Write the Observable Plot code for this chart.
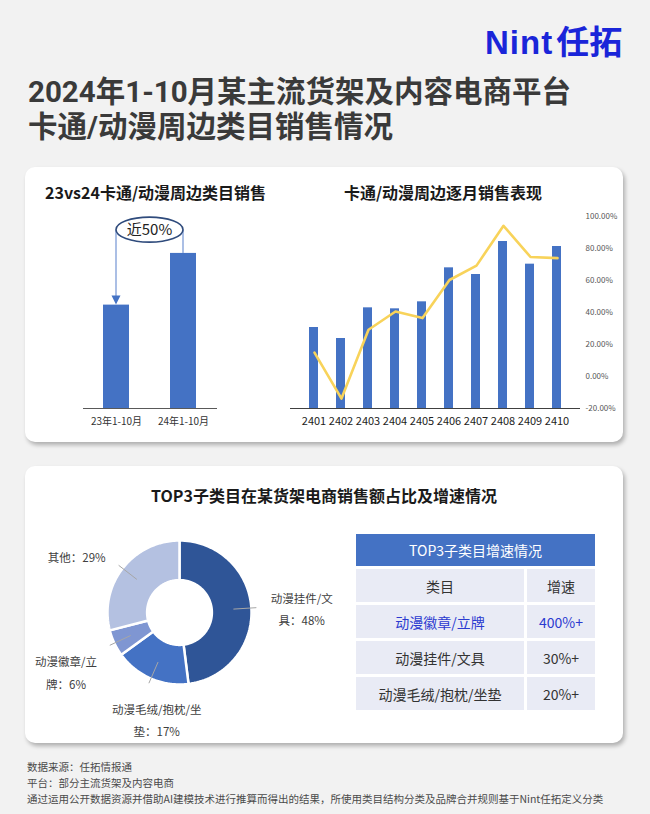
<!DOCTYPE html>
<html><head><meta charset="utf-8">
<script src="https://cdn.jsdelivr.net/npm/d3@7"></script>
<script src="https://cdn.jsdelivr.net/npm/@observablehq/plot@0.6"></script>
<style>
body{margin:0;background:#f2f2f2;font-family:"Noto Sans CJK SC","Noto Sans",sans-serif;}
#page{position:relative;width:650px;height:814px;overflow:hidden;background:#f2f2f2;}
.abs{position:absolute;}
.card{position:absolute;background:#fff;border-radius:10px;box-shadow:2px 3px 4px rgba(0,0,0,0.28);}
#logo{left:485px;top:21px;font-weight:bold;color:#1a25d9;font-size:33px;line-height:38px;white-space:nowrap;}
#logo .en{font-family:"Liberation Sans",Arial,sans-serif;font-weight:bold;letter-spacing:1px;margin-right:3px;}
.title{left:28px;font-family:Roboto,"Noto Sans CJK SC",sans-serif;font-size:29.5px;font-weight:bold;color:#3a3a3a;line-height:30px;height:30px;white-space:nowrap;}
.ctitle{font-size:16px;font-weight:bold;color:#1a1a1a;white-space:nowrap;}
table{border-collapse:separate;border-spacing:3px;}
#tbl{left:353px;top:531px;}
#tbl td{background:#e9ebf5;text-align:center;font-size:14px;color:#333;height:33px;padding:0;}
#tbl th{background:#4472c4;color:#fff;font-weight:normal;font-size:14px;height:32px;padding:0;}
#footer{left:27px;top:759px;font-size:10.5px;line-height:16px;color:#4a4a4a;white-space:nowrap;}
</style></head><body>
<div id="page">
  <div id="logo" class="abs"><span class="en">Nint</span>任拓</div>
  <div class="abs title" style="top:77px;">2024年1-10月某主流货架及内容电商平台</div>
  <div class="abs title" style="top:112px;">卡通/动漫周边类目销售情况</div>
  <div class="card" style="left:25px;top:167px;width:598px;height:275px;"></div>
  <div class="card" style="left:25px;top:466px;width:598px;height:277px;"></div>
  <div class="abs ctitle" style="left:45px;top:180px;">23vs24卡通/动漫周边类目销售</div>
  <div class="abs ctitle" style="left:343px;top:180px;width:200px;text-align:center;">卡通/动漫周边逐月销售表现</div>
  <div class="abs ctitle" style="left:25px;top:483px;width:598px;text-align:center;">TOP3子类目在某货架电商销售额占比及增速情况</div>
  <div id="c1" class="abs" style="left:63px;top:215px;"></div>
  <div id="c2" class="abs" style="left:270px;top:200px;"></div>
  <div id="c3" class="abs" style="left:270px;top:200px;"></div>
  <div id="c4" class="abs" style="left:30px;top:525px;"></div>
  <div id="tbl" class="abs"></div>
  <div id="footer" class="abs">数据来源：任拓情报通<br>平台：部分主流货架及内容电商<br>通过运用公开数据资源并借助AI建模技术进行推算而得出的结果，所使用类目结构分类及品牌合并规则基于Nint任拓定义分类</div>
</div>
<script>
// ---- data ----
const compareCats = ["23年1-10月", "24年1-10月"];
const compareVals = [100, 150];
const compareNote = "近50%";

const months = ["2401","2402","2403","2404","2405","2406","2407","2408","2409","2410"];
const monthSales = [24.3, 21.0, 30.2, 29.9, 32.0, 42.2, 40.2, 50.1, 43.3, 48.6];
const monthGrowth = [14.9, -13.8, 29.2, 40.6, 36.5, 60.3, 69.3, 94.2, 74.7, 74.0];
const growthTicks = [-20, 0, 20, 40, 60, 80, 100];

const shareCats = ["动漫挂件/文具", "动漫毛绒/抱枕/坐垫", "动漫徽章/立牌", "其他"];
const shareVals = [48, 17, 6, 29];
const shareColors = ["#2f5597", "#4472c4", "#7f96d2", "#b4c1e1"];

const tableTitle = "TOP3子类目增速情况";
const tableHead = ["类目", "增速"];
const tableCats = ["动漫徽章/立牌", "动漫挂件/文具", "动漫毛绒/抱枕/坐垫"];
const tableGrowth = ["400%+", "30%+", "20%+"];

const FONT = '"Noto Sans CJK SC","Noto Sans",sans-serif';

// ---- chart 1: 23 vs 24 ----
const compare = compareCats.map((c, i) => ({cat: c, v: compareVals[i]}));
const yMax1 = 177;
const p1 = Plot.plot({
  width: 174, height: 223, marginLeft: 20, marginRight: 20, marginTop: 10, marginBottom: 30,
  x: {domain: compareCats, paddingInner: 0.61, paddingOuter: 0.305, label: null, tickSize: 0, tickPadding: 9},
  y: {domain: [0, yMax1], axis: null},
  style: {fontSize: "10px", fontFamily: FONT, color: "#333", background: "transparent", overflow: "visible"},
  marks: [
    Plot.barY(compare, {x: "cat", y: "v", fill: "#4472c4"}),
    Plot.ruleY([0], {stroke: "#595959", strokeWidth: 1.2})
  ]
});
document.getElementById("c1").appendChild(p1);
{
  const xs = p1.scale("x"), ys = p1.scale("y");
  const cA = xs.apply(compareCats[0]) + xs.bandwidth / 2;
  const cB = xs.apply(compareCats[1]) + xs.bandwidth / 2;
  const cx = (cA + cB) / 2, rx = (cB - cA) / 2;
  const cy = ys.apply(d3.max(compareVals) * 1.15), ry = 12.5;
  const topA = ys.apply(compareVals[0]), topB = ys.apply(compareVals[1]);
  const g = d3.select(p1).append("g");
  g.append("line").attr("x1", cA).attr("x2", cA).attr("y1", cy).attr("y2", topA - 8)
    .attr("stroke", "#8faadc").attr("stroke-width", 1.5);
  g.append("path").attr("d", `M${cA-4.5},${topA-9}L${cA+4.5},${topA-9}L${cA},${topA}Z`).attr("fill", "#4472c4");
  g.append("line").attr("x1", cB).attr("x2", cB).attr("y1", cy).attr("y2", topB)
    .attr("stroke", "#8faadc").attr("stroke-width", 1.5);
  g.append("ellipse").attr("cx", cx).attr("cy", cy).attr("rx", rx).attr("ry", ry)
    .attr("fill", "#fff").attr("stroke", "#2f4b7c").attr("stroke-width", 1.6);
  g.append("text").attr("x", cx).attr("y", cy).attr("dy", "0.35em").attr("text-anchor", "middle")
    .attr("font-size", 15).attr("fill", "#222").attr("font-family", FONT).text(compareNote);
}

// ---- chart 2: monthly bars + growth line ----
const monthly = months.map((m, i) => ({m, s: monthSales[i], g: monthGrowth[i]}));
const p2 = Plot.plot({
  width: 360, height: 238, marginLeft: 20, marginRight: 50, marginTop: 16, marginBottom: 30,
  x: {domain: months, paddingInner: 0.67, paddingOuter: 0.685, label: null, tickSize: 0, tickPadding: 9},
  y: {domain: [0, 57.6], axis: null},
  style: {fontSize: "11px", fontFamily: FONT, color: "#222", background: "transparent"},
  marks: [
    Plot.barY(monthly, {x: "m", y: "s", fill: "#4472c4"}),
    Plot.ruleY([0], {stroke: "#404040", strokeWidth: 1.2})
  ]
});
document.getElementById("c2").appendChild(p2);
const p3 = Plot.plot({
  width: 360, height: 238, marginLeft: 20, marginRight: 50, marginTop: 16, marginBottom: 30,
  x: {type: "point", domain: months, padding: 0.849, axis: null},
  y: {domain: [-20, 100], axis: "right", ticks: growthTicks, tickFormat: d => d.toFixed(2) + "%",
      tickSize: 0, tickPadding: 5, label: null},
  style: {fontSize: "8px", fontFamily: FONT, color: "#555", background: "transparent"},
  marks: [
    Plot.line(monthly, {x: "m", y: "g", stroke: "#f8d35a", strokeWidth: 2.6})
  ]
});
document.getElementById("c3").appendChild(p3);

// ---- chart 3: donut ----
const U = 72; // pixels per unit radius
const W4 = 300, H4 = 215, CX = 149, CY = 87;
const total = d3.sum(shareVals);
let acc = 0;
const slices = shareCats.map((c, i) => {
  const a0 = acc / total * 2 * Math.PI; acc += shareVals[i];
  const a1 = acc / total * 2 * Math.PI;
  return {c, v: shareVals[i], a0, a1, m: (a0 + a1) / 2, i};
});
function ring(s, r0, r1) {
  const pts = [], N = 80;
  for (let k = 0; k <= N; k++) { const a = s.a0 + (s.a1 - s.a0) * k / N; pts.push({x: r1 * Math.sin(a), y: r1 * Math.cos(a)}); }
  for (let k = N; k >= 0; k--) { const a = s.a0 + (s.a1 - s.a0) * k / N; pts.push({x: r0 * Math.sin(a), y: r0 * Math.cos(a)}); }
  return pts;
}
const labels = slices.map(s => {
  const sn = Math.sin(s.m), cs = Math.cos(s.m);
  const side = Math.abs(sn) > 0.5;
  let lx = 1.3 * sn, ly = 1.3 * cs;
  if (side) { lx += Math.sign(sn) * 0.4; if (cs < 0) ly -= 0.25; } else { ly -= 0.27; lx += 0.2; }
  const full = `${s.c}：${s.v}%`;
  const n = side ? 6 : 9;
  const chars = Array.from(full);
  const lines = [];
  for (let k = 0; k < chars.length; k += n) lines.push(chars.slice(k, k + n).join(""));
  return {lx, ly, text: lines.join("\n"),
    x1: 0.75 * sn, y1: 0.75 * cs, x2: 1.07 * sn, y2: 1.07 * cs};
});
const p4 = Plot.plot({
  width: W4, height: H4, margin: 0,
  x: {domain: [-CX / U, (W4 - CX) / U], axis: null},
  y: {domain: [-(H4 - CY) / U, CY / U], axis: null},
  style: {fontFamily: FONT, background: "transparent", overflow: "visible"},
  marks: [
    ...slices.map(s => Plot.line(ring(s, 0.45, 1), {x: "x", y: "y", curve: "linear-closed",
      fill: shareColors[s.i], stroke: "#fff", strokeWidth: 2.5})),
    Plot.link(labels, {x1: "x1", y1: "y1", x2: "x2", y2: "y2", stroke: "#a6a6a6", strokeWidth: 1}),
    Plot.text(labels, {x: "lx", y: "ly", text: "text", fontSize: 11.5, lineHeight: 1.95, fill: "#404040"})
  ]
});
document.getElementById("c4").appendChild(p4);

// ---- table ----
{
  const t = d3.select("#tbl").append("table");
  t.append("tr").append("th").attr("colspan", 2).text(tableTitle);
  const h = t.append("tr");
  h.append("td").style("width", "168px").text(tableHead[0]);
  h.append("td").style("width", "68px").text(tableHead[1]);
  tableCats.forEach((c, i) => {
    const r = t.append("tr");
    const col = i === 0 ? "#2b3ad0" : "#333";
    r.append("td").style("color", col).text(c);
    r.append("td").style("color", col).text(tableGrowth[i]);
  });
}
</script>
</body></html>
